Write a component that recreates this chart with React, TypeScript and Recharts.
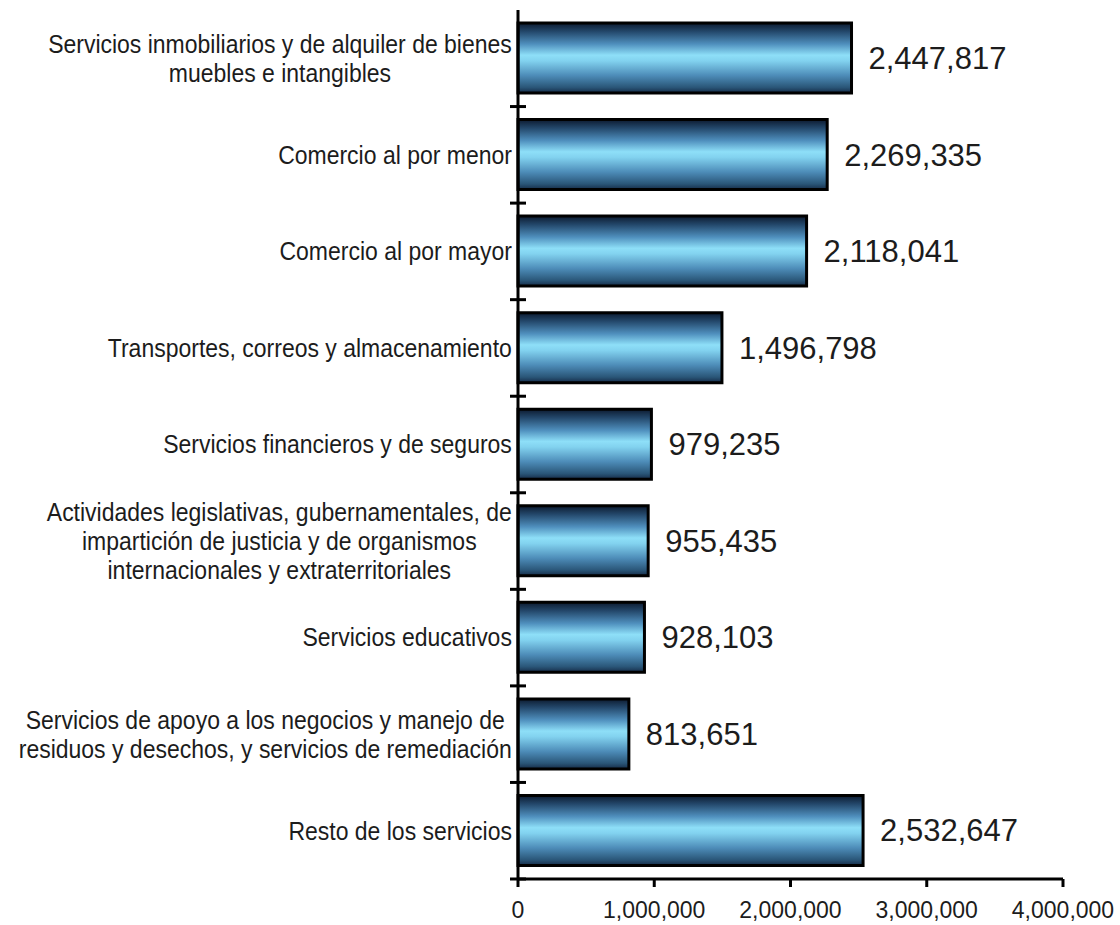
import { BarChart, Bar, XAxis, YAxis, LabelList } from 'recharts';

// categories (line breaks as in the original labels)
const categories = [
  'Servicios inmobiliarios y de alquiler de bienes\nmuebles e intangibles',
  'Comercio al por menor',
  'Comercio al por mayor',
  'Transportes, correos y almacenamiento',
  'Servicios financieros y de seguros',
  'Actividades legislativas, gubernamentales, de\nimpartición de justicia y de organismos\ninternacionales y extraterritoriales',
  'Servicios educativos',
  'Servicios de apoyo a los negocios y manejo de\nresiduos y desechos, y servicios de remediación',
  'Resto de los servicios',
];

const values = [2447817, 2269335, 2118041, 1496798, 979235, 955435, 928103, 813651, 2532647];

const xTicks = [0, 1000000, 2000000, 3000000, 4000000];

const data = categories.map((name, i) => ({ name, value: values[i] }));

const FONT = "'Liberation Sans', Arial, sans-serif";
const TEXT = '#1c1c1c';
const CAT_SIZE = 23;
const LINE_H = 29;
const AXIS_X = 518;
const TOP = 10;
const BOTTOM = 879;
const BAND = (BOTTOM - TOP) / categories.length;
const STRETCH = 1.1; // the source text is a little taller than wide

let ctx: CanvasRenderingContext2D | null = null;
function measure(text: string) {
  if (!ctx) {
    ctx = document.createElement('canvas').getContext('2d');
  }
  if (!ctx) return text.length * CAT_SIZE * 0.5;
  ctx.font = `${CAT_SIZE}px ${FONT}`;
  return ctx.measureText(text).width;
}

function CategoryTick(props: any) {
  const { y, payload } = props;
  const lines: string[] = String(payload.value).split('\n');
  const widest = Math.max(...lines.map(measure));
  const right = AXIS_X - 6;
  const cx = right - widest / 2;
  const half = BAND / 2;
  return (
    <g>
      <g transform={`translate(0 ${y}) scale(1 ${STRETCH})`}>
        <text textAnchor="middle" fontSize={CAT_SIZE} fontFamily={FONT} fill={TEXT}>
          {lines.map((l, i) => (
            <tspan
              key={i}
              x={cx}
              y={(i * LINE_H - ((lines.length - 1) * LINE_H) / 2) / STRETCH}
              dy="0.35em"
            >
              {l}
            </tspan>
          ))}
        </text>
      </g>
      <line
        x1={AXIS_X - 8}
        x2={AXIS_X + 8}
        y1={y + half}
        y2={y + half}
        stroke="#000"
        strokeWidth={3}
      />
    </g>
  );
}

const fmt = (v: number) => v.toLocaleString('en-US');

export default function App() {
  return (
    <div style={{ width: 1120, height: 925 }}>
      <style>{`body{margin:0}`}</style>
      <BarChart
        width={1120}
        height={925}
        data={data}
        layout="vertical"
        margin={{ top: TOP, right: 57, bottom: 0, left: 0 }}
        barCategoryGap={0}
      >
        <defs>
          <linearGradient id="barGrad" x1="0" y1="0" x2="0" y2="1">
            <stop offset="0%" stopColor="#0c1a2f" />
            <stop offset="12%" stopColor="#23476a" />
            <stop offset="30%" stopColor="#4f8fbd" />
            <stop offset="46%" stopColor="#8edff8" />
            <stop offset="54%" stopColor="#82d2ef" />
            <stop offset="75%" stopColor="#4d8cb8" />
            <stop offset="92%" stopColor="#2a5678" />
            <stop offset="100%" stopColor="#152b47" />
          </linearGradient>
        </defs>
        <XAxis
          type="number"
          domain={[0, 4000000]}
          ticks={xTicks}
          tickFormatter={fmt}
          height={46}
          axisLine={{ stroke: '#000', strokeWidth: 3 }}
          tickLine={{ stroke: '#000', strokeWidth: 3 }}
          tickSize={8}
          tickMargin={15}
          tick={{ fontSize: 23, fontFamily: FONT, fill: TEXT }}
          interval={0}
        />
        <YAxis
          type="category"
          dataKey="name"
          width={AXIS_X}
          axisLine={{ stroke: '#000', strokeWidth: 3 }}
          tickLine={false}
          tickSize={0}
          tickMargin={0}
          tick={<CategoryTick />}
          interval={0}
        />
        <Bar
          dataKey="value"
          fill="url(#barGrad)"
          stroke="#000"
          strokeWidth={3}
          barSize={70}
          isAnimationActive={false}
        >
          <LabelList
            dataKey="value"
            position="right"
            offset={17}
            formatter={(v: any) => fmt(Number(v))}
            style={{ fontSize: 31, fontFamily: FONT, fill: TEXT }}
          />
        </Bar>
      </BarChart>
    </div>
  );
}
